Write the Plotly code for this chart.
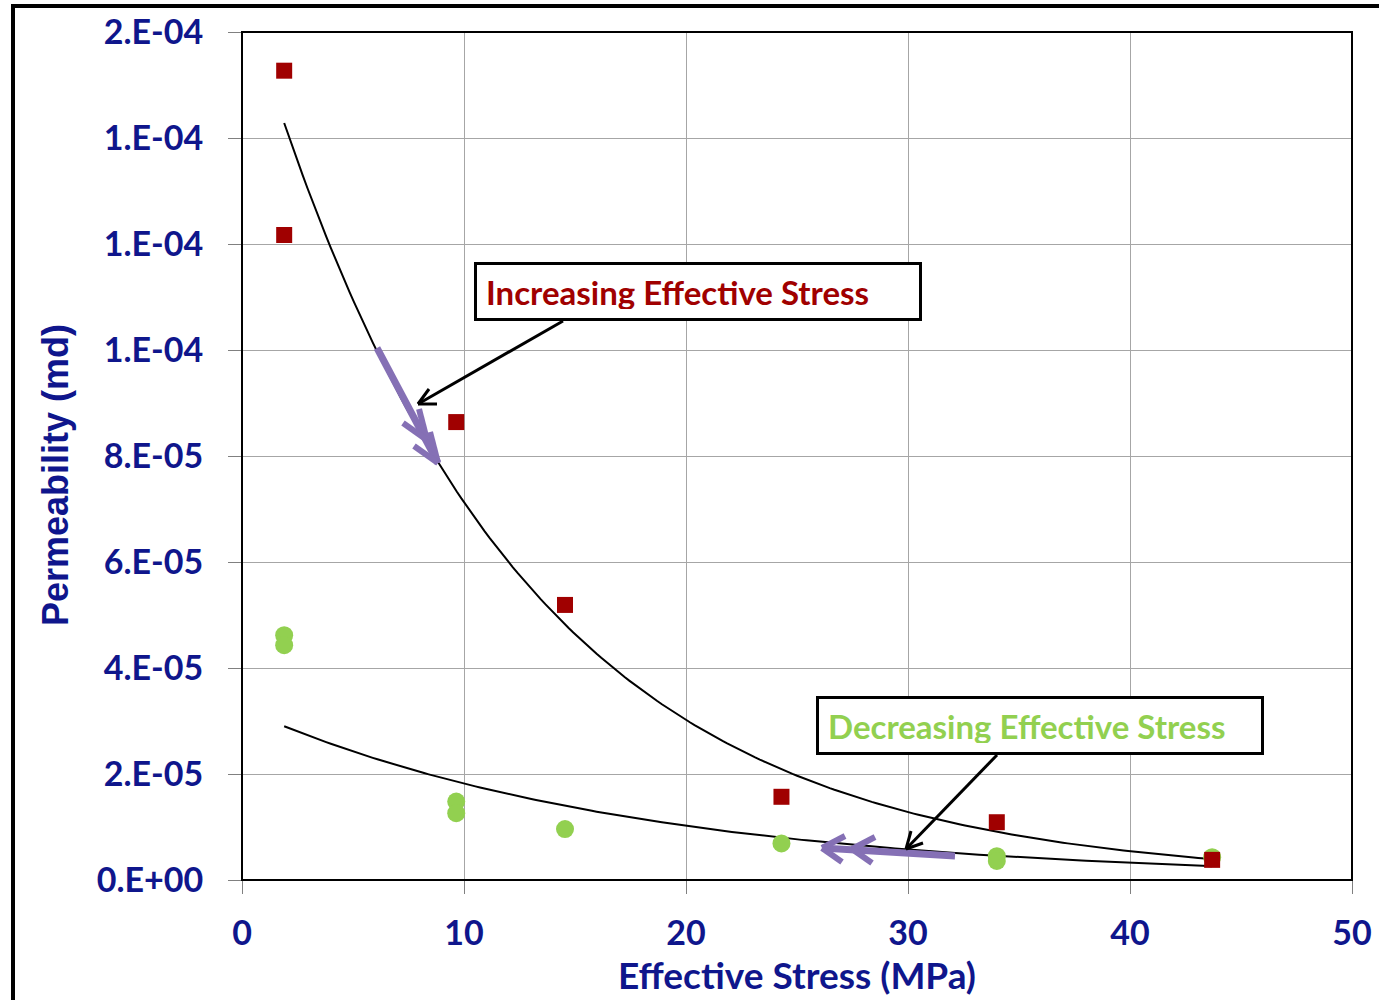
import numpy as np
import plotly.graph_objects as go

# ---- data ----
inc_stress = [1.9, 1.9, 9.65, 14.55, 24.3, 34.0, 43.7]
inc_perm = [1.527e-4, 1.217e-4, 8.64e-5, 5.19e-5, 1.57e-5, 1.09e-5, 3.8e-6]

dec_stress = [1.9, 1.9, 9.65, 9.65, 14.55, 24.3, 34.0, 34.0, 43.7]
dec_perm = [4.62e-5, 4.43e-5, 1.48e-5, 1.26e-5, 9.6e-6, 6.9e-6, 4.5e-6, 3.6e-6, 4.3e-6]

y_tickvals = [0, 2e-5, 4e-5, 6e-5, 8e-5, 1.0e-4, 1.2e-4, 1.4e-4, 1.6e-4]
y_ticktext = ["0.E+00", "2.E-05", "4.E-05", "6.E-05", "8.E-05", "1.E-04", "1.E-04", "1.E-04", "2.E-04"]
x_tickvals = [0, 10, 20, 30, 40, 50]

NAVY = "#0F168C"
RED = "#A00000"
GREEN = "#92D050"
PURPLE = "#8570B5"
FONT = "Lato"


def exp_trend(xs, ys):
    b, a = np.polyfit(np.array(xs), np.log(np.array(ys)), 1)
    xx = np.linspace(min(xs), max(xs), 200)
    return xx, np.exp(a + b * xx)


fig = go.Figure()

tx, ty = exp_trend(inc_stress, inc_perm)
fig.add_trace(go.Scatter(x=tx, y=ty, mode="lines", line=dict(color="black", width=2), hoverinfo="skip"))
tx2, ty2 = exp_trend(dec_stress, dec_perm)
fig.add_trace(go.Scatter(x=tx2, y=ty2, mode="lines", line=dict(color="black", width=2), hoverinfo="skip"))

fig.add_trace(go.Scatter(x=dec_stress, y=dec_perm, mode="markers", name="Decreasing",
                         marker=dict(symbol="circle", size=18, color=GREEN)))
fig.add_trace(go.Scatter(x=inc_stress, y=inc_perm, mode="markers", name="Increasing",
                         marker=dict(symbol="square", size=16, color=RED)))

# pixel -> data helpers for decorations
L, R, T, B = 242, 1352, 32, 880
def dx(px):
    return (px - L) / (R - L) * 50
def dy(py):
    return (B - py) / (B - T) * 1.6e-4

shapes = []
def seg(x0, y0, x1, y1, color, width):
    shapes.append(dict(type="line", xref="x", yref="y", x0=dx(x0), y0=dy(y0), x1=dx(x1), y1=dy(y1),
                       line=dict(color=color, width=width), layer="above"))

# purple arrows (upper curve)
seg(377, 348, 438, 463, PURPLE, 7)
seg(438, 463, 430, 432, PURPLE, 6)
seg(438, 463, 414, 446, PURPLE, 6)
seg(427, 440, 419, 409, PURPLE, 6)
seg(427, 440, 403, 423, PURPLE, 6)
# purple arrows (lower curve)
seg(955, 856, 822, 848, PURPLE, 7)
seg(822, 848, 845, 836, PURPLE, 6)
seg(822, 848, 842, 862, PURPLE, 6)
seg(852, 849, 875, 837, PURPLE, 6)
seg(852, 849, 872, 863, PURPLE, 6)
# black callout arrows
seg(563, 321, 418, 404, "black", 3)
seg(418, 404, 437, 404, "black", 3)
seg(418, 404, 429, 389, "black", 3)
seg(997, 755, 906, 849, "black", 3)
seg(906, 849, 923, 843, "black", 3)
seg(906, 849, 911, 831, "black", 3)

# plot frame
shapes.append(dict(type="rect", xref="paper", yref="paper", x0=0, y0=0, x1=1, y1=1,
                   line=dict(color="black", width=2), layer="above"))
# outer picture frame (left and top)
W = R - L
H = B - T
shapes.append(dict(type="line", xref="paper", yref="paper", x0=(13 - L) / W, x1=(13 - L) / W,
                   y0=(B - 1005) / H, y1=(B - 4) / H, line=dict(color="black", width=4)))
shapes.append(dict(type="line", xref="paper", yref="paper", x0=(11 - L) / W, x1=(1385 - L) / W,
                   y0=(B - 6) / H, y1=(B - 6) / H, line=dict(color="black", width=4)))

annotations = [
    dict(xref="paper", yref="paper", x=(474 - L) / W, y=(B - 262) / H, xanchor="left", yanchor="top",
         text="Increasing Effective Stress", showarrow=False, align="left",
         width=424, height=35, borderwidth=3, bordercolor="black", borderpad=9, bgcolor="white",
         font=dict(family=FONT, size=33, color=RED, weight="bold")),
    dict(xref="paper", yref="paper", x=(816 - L) / W, y=(B - 696) / H, xanchor="left", yanchor="top",
         text="Decreasing Effective Stress", showarrow=False, align="left",
         width=424, height=35, borderwidth=3, bordercolor="black", borderpad=9, bgcolor="white",
         font=dict(family=FONT, size=33, color=GREEN, weight="bold")),
    dict(xref="paper", yref="paper", x=(55 - L) / W, y=(B - 475) / H, xanchor="center", yanchor="middle",
         text="Permeability (md)", showarrow=False, textangle=-90,
         font=dict(family="Liberation Sans", size=36, color=NAVY, weight="bold")),
]

fig.update_layout(
    width=1379, height=1000,
    margin=dict(l=L, r=1379 - R, t=T, b=1000 - B, autoexpand=False),
    paper_bgcolor="white", plot_bgcolor="white",
    showlegend=False,
    shapes=shapes, annotations=annotations,
    xaxis=dict(range=[0, 50], tickvals=x_tickvals, showgrid=True, gridcolor="#A6A6A6", gridwidth=1,
               zeroline=False, ticks="outside", ticklen=13, tickcolor="#808080", tickwidth=1,
               ticklabelstandoff=10, automargin=False,
               tickfont=dict(family=FONT, size=34, color=NAVY, weight="bold"),
               title=dict(text="Effective Stress (MPa)", standoff=2,
                          font=dict(family=FONT, size=37, color=NAVY, weight="bold"))),
    yaxis=dict(range=[0, 1.6e-4], tickvals=y_tickvals, ticktext=y_ticktext, showgrid=True,
               gridcolor="#A6A6A6", gridwidth=1, zeroline=False, ticks="outside", ticklen=13,
               tickcolor="#808080", tickwidth=1, ticklabelstandoff=18, automargin=False,
               tickfont=dict(family=FONT, size=34, color=NAVY, weight="bold")),
)

fig.write_html("out.html")
